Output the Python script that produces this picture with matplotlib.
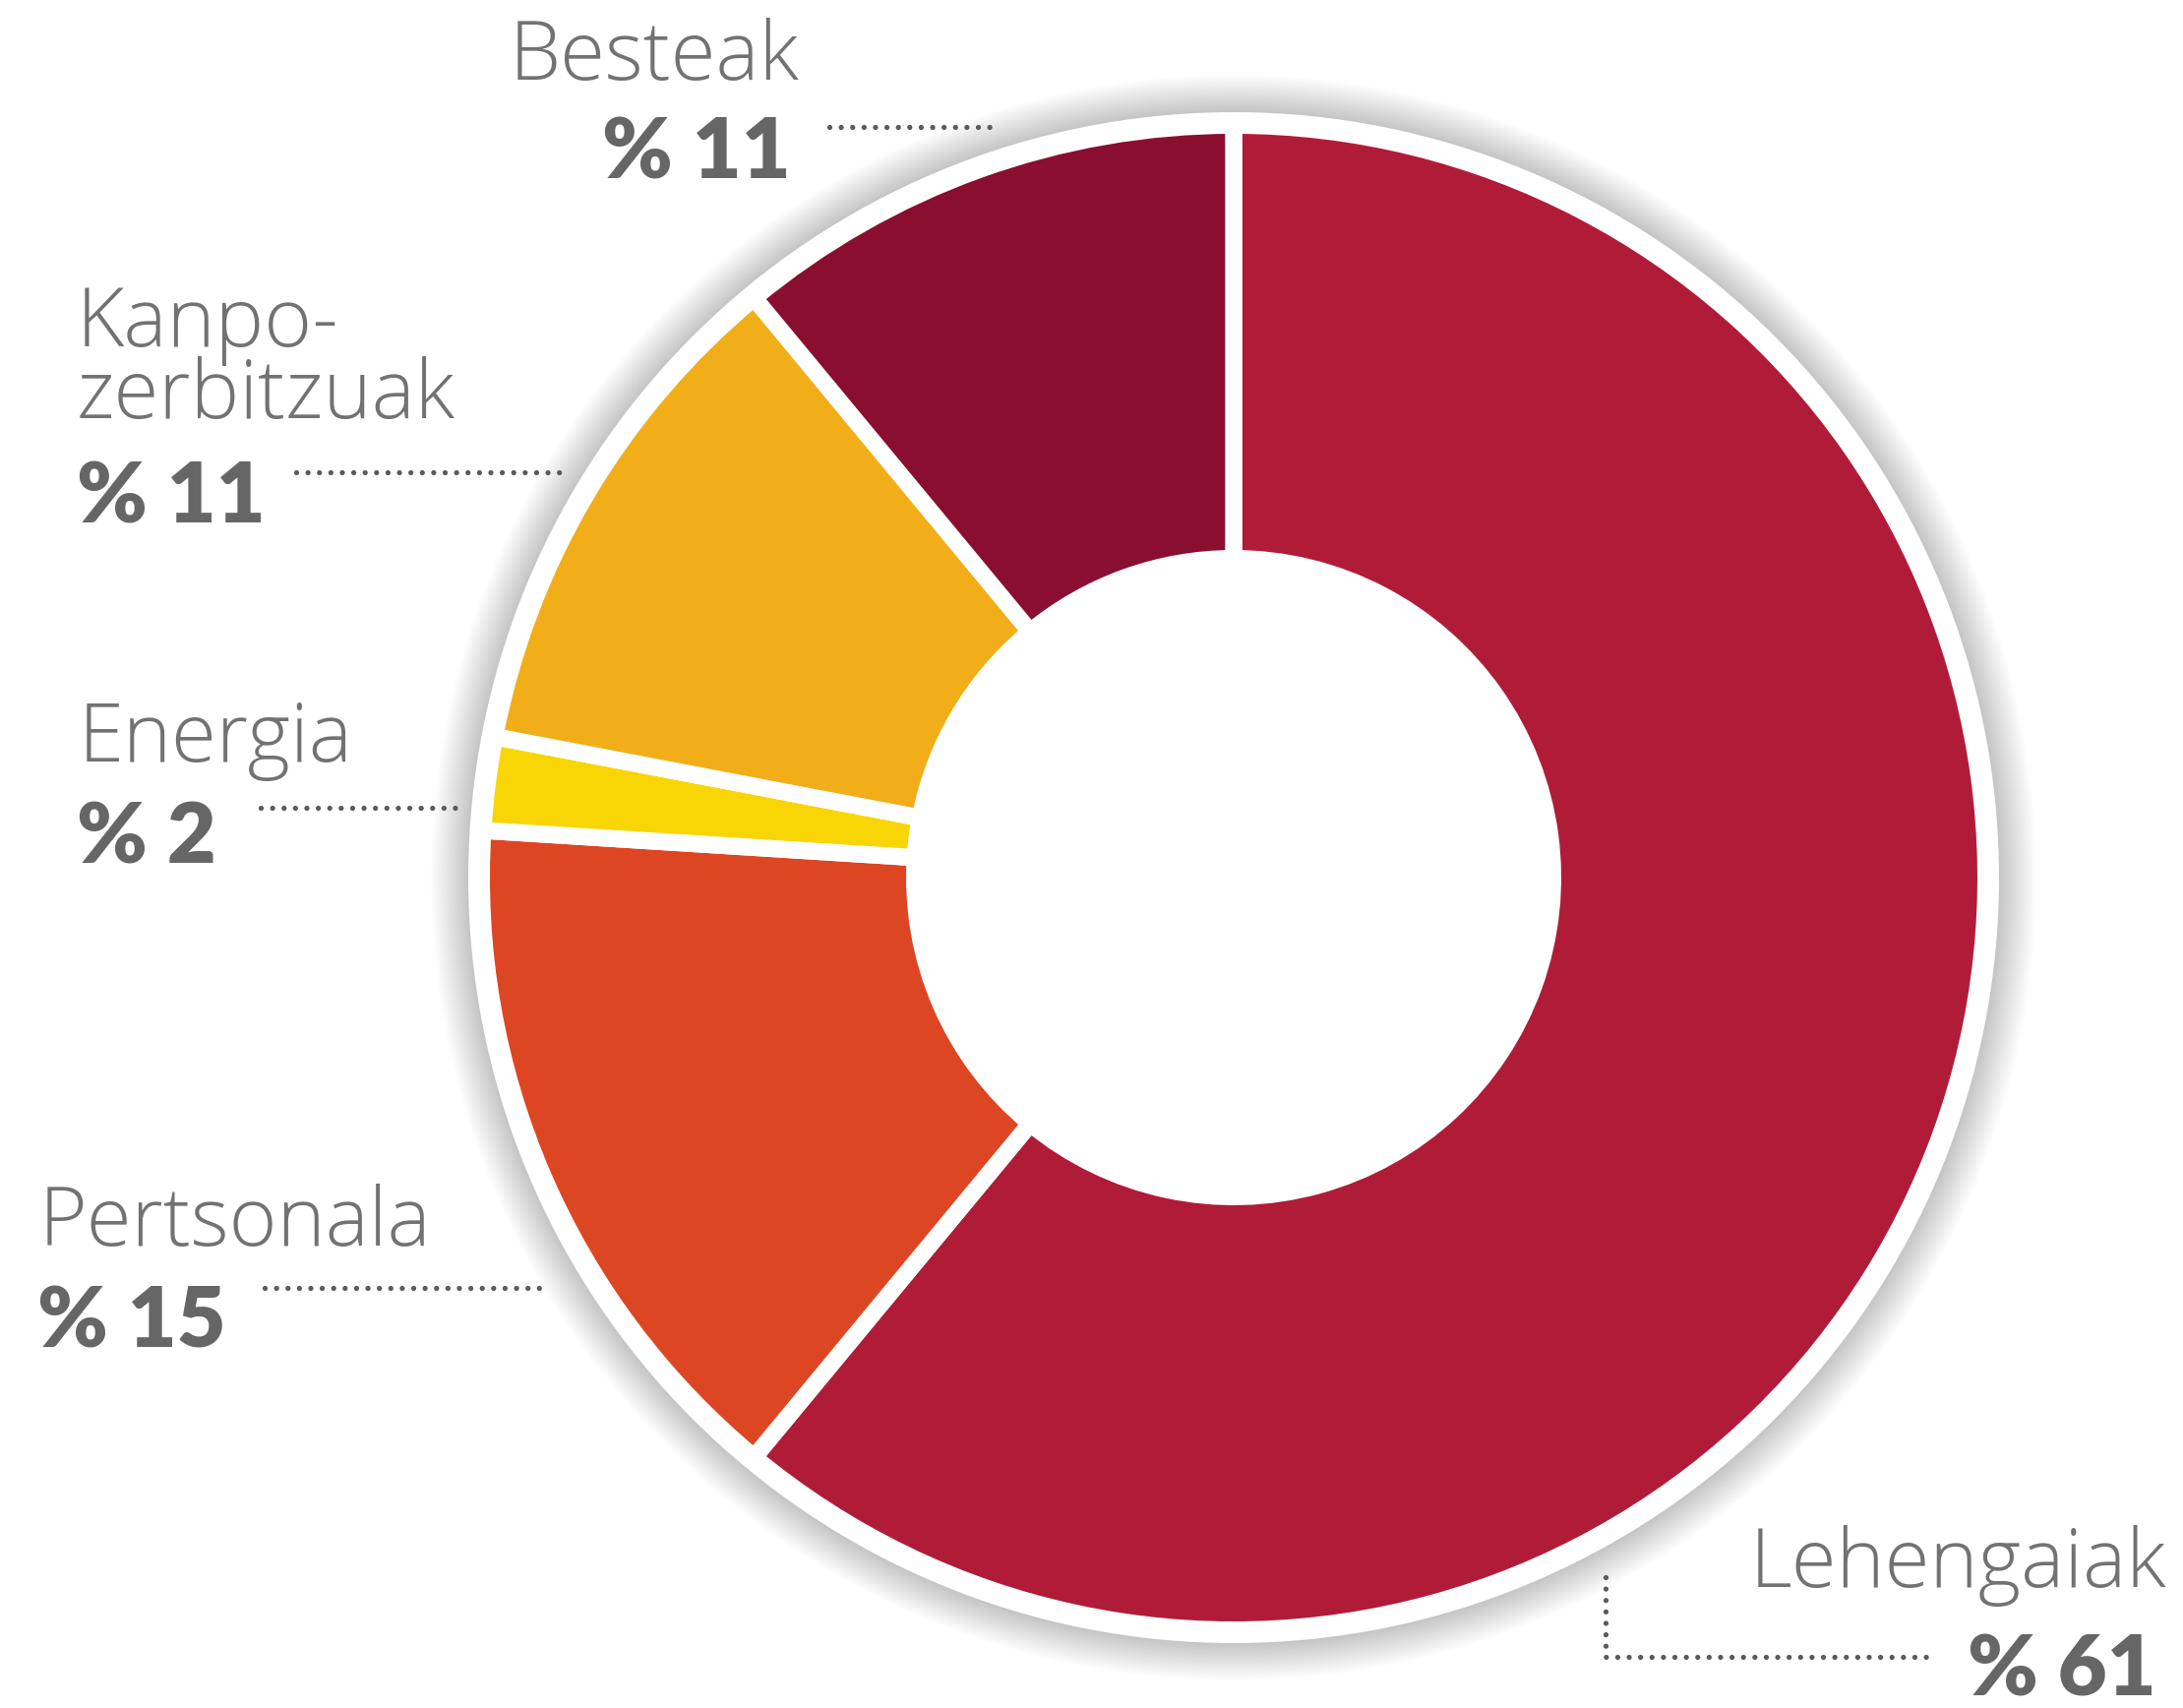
import numpy as np
import matplotlib.pyplot as plt
from matplotlib.patches import Circle

# Data
labels = ['Lehengaiak', 'Pertsonala', 'Energia', 'Kanpo-\nzerbitzuak', 'Besteak']
shares = [61, 15, 2, 11, 11]
colors = ['#B01C38', '#DD4623', '#F8D504', '#F2AE19', '#8A0E2F']

W, H = 2219, 1736
fig = plt.figure(figsize=(W / 100, H / 100), dpi=100)
ax = fig.add_axes([0, 0, 1, 1])

def Y(y):
    # image row -> data y
    return H - y

cx, cy = 1254, Y(892)
r_out, r_in = 756, 333
gap = 12.5  # white edge width in points

# soft shadow + white ring behind the donut
n = 30
for i in range(n):
    r = r_out + 22 + 38 * (1 - i / (n - 1))
    ax.add_patch(Circle((cx, cy), r, color='#000000', alpha=0.007, lw=0, zorder=1))
ax.add_patch(Circle((cx, cy), r_out + 22, color='white', lw=0, zorder=2))

half = gap / 0.72 / 2
wedges, _ = ax.pie(shares, colors=colors, startangle=90, counterclock=False,
                   center=(cx, cy), radius=r_out + half, frame=True,
                   wedgeprops=dict(width=r_out - r_in + 2 * half,
                                   edgecolor='white', linewidth=gap))
for w in wedges:
    w.set_zorder(3)
ax.set_xlim(0, W)
ax.set_ylim(0, H)
ax.set_aspect('equal')
ax.axis('off')

lab_kw = dict(family=['Open Sans', 'DejaVu Sans'], fontweight='light',
              color='#727272', fontsize=60, va='baseline')
num_kw = dict(family=['Lato', 'DejaVu Sans'], fontweight='heavy',
              color='#666666', fontsize=62, va='baseline')

# label text positions (layout)
ax.text(518, Y(81), labels[4], ha='left', **lab_kw)
ax.text(804, Y(181), f'% {shares[4]}', ha='right', **num_kw)

ax.text(78, Y(425), labels[3], ha='left', linespacing=0.84, **lab_kw)
ax.text(78, Y(531), f'% {shares[3]}', ha='left', **num_kw)

ax.text(80, Y(774), labels[2], ha='left', **lab_kw)
ax.text(78, Y(877), f'% {shares[2]}', ha='left', **num_kw)

ax.text(40, Y(1266), labels[1], ha='left', **lab_kw)
ax.text(38, Y(1370), f'% {shares[1]}', ha='left', **num_kw)

ax.text(2202, Y(1613), labels[0], ha='right', **lab_kw)
ax.text(2192, Y(1724), f'% {shares[0]}', ha='right', **num_kw)

# dotted leader lines
dot = dict(color='#5a5a5a', lw=3.8, linestyle=(0, (0.001, 2.2)),
           dash_capstyle='round', zorder=5)
ax.plot([843, 1017], [Y(129), Y(129)], **dot)
ax.plot([301, 570], [Y(480), Y(480)], **dot)
ax.plot([265, 467], [Y(821), Y(821)], **dot)
ax.plot([269, 552], [Y(1309), Y(1309)], **dot)
ax.plot([1632, 1632, 1960], [Y(1603), Y(1684), Y(1684)], **dot)

fig.savefig('out.png', dpi=100, facecolor='white')
